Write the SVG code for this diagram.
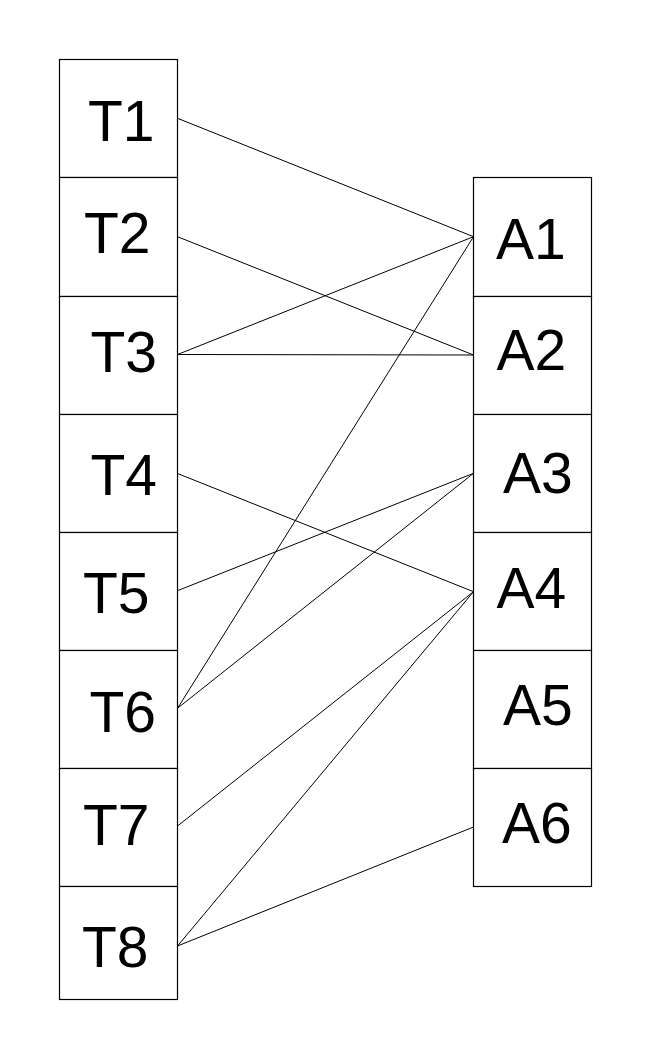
<svg xmlns="http://www.w3.org/2000/svg" width="650" height="1063" viewBox="0 0 650 1063">
<style>
.box{fill:#fff;stroke:#000;stroke-width:1.2}
.lbl{font-family:"Liberation Sans",Arial,sans-serif;font-size:57px;fill:#000}
.edge{stroke:#000;stroke-width:1;fill:none}
</style>
<rect width="650" height="1063" fill="#fff"/>
<g id="T1"><rect class="box" x="59.5" y="59.5" width="118" height="118"/><text class="lbl" x="88" y="140.7">T1</text></g>
<g id="T2"><rect class="box" x="59.5" y="177.5" width="118" height="119"/><text class="lbl" x="84" y="253.3">T2</text></g>
<g id="T3"><rect class="box" x="59.5" y="296.5" width="118" height="118"/><text class="lbl" x="90.5" y="371.7">T3</text></g>
<g id="T4"><rect class="box" x="59.5" y="414.5" width="118" height="118"/><text class="lbl" x="90.5" y="495">T4</text></g>
<g id="T5"><rect class="box" x="59.5" y="532.5" width="118" height="118"/><text class="lbl" x="83" y="612.7">T5</text></g>
<g id="T6"><rect class="box" x="59.5" y="650.5" width="118" height="118"/><text class="lbl" x="89.5" y="731.7">T6</text></g>
<g id="T7"><rect class="box" x="59.5" y="768.5" width="118" height="118"/><text class="lbl" x="83" y="845">T7</text></g>
<g id="T8"><rect class="box" x="59.5" y="886.5" width="118" height="113"/><text class="lbl" x="82" y="967.3">T8</text></g>
<g id="A1"><rect class="box" x="473.5" y="177.5" width="118" height="119"/><text class="lbl" x="496" y="259.3">A1</text></g>
<g id="A2"><rect class="box" x="473.5" y="296.5" width="118" height="118"/><text class="lbl" x="496.5" y="370">A2</text></g>
<g id="A3"><rect class="box" x="473.5" y="414.5" width="118" height="118"/><text class="lbl" x="503" y="492.7">A3</text></g>
<g id="A4"><rect class="box" x="473.5" y="532.5" width="118" height="118"/><text class="lbl" x="496.5" y="607.7">A4</text></g>
<g id="A5"><rect class="box" x="473.5" y="650.5" width="118" height="118"/><text class="lbl" x="503" y="725">A5</text></g>
<g id="A6"><rect class="box" x="473.5" y="768.5" width="118" height="118"/><text class="lbl" x="502" y="843.3">A6</text></g>
<g id="connectors">
<line class="edge" x1="177.5" y1="118.3" x2="473.5" y2="236.7"/>
<line class="edge" x1="177.5" y1="236.7" x2="473.5" y2="355"/>
<line class="edge" x1="177.5" y1="354.5" x2="473.5" y2="236.7"/>
<line class="edge" x1="177.5" y1="354.5" x2="473.5" y2="355"/>
<line class="edge" x1="177.5" y1="473.5" x2="473.5" y2="591.7"/>
<line class="edge" x1="177.5" y1="590.7" x2="473.5" y2="473.3"/>
<line class="edge" x1="177.5" y1="708.3" x2="473.5" y2="236.7"/>
<line class="edge" x1="177.5" y1="708.3" x2="473.5" y2="473.3"/>
<line class="edge" x1="177.5" y1="826" x2="473.5" y2="591.7"/>
<line class="edge" x1="177.5" y1="946" x2="473.5" y2="591.7"/>
<line class="edge" x1="177.5" y1="946" x2="473.5" y2="827"/>
</g>
</svg>
